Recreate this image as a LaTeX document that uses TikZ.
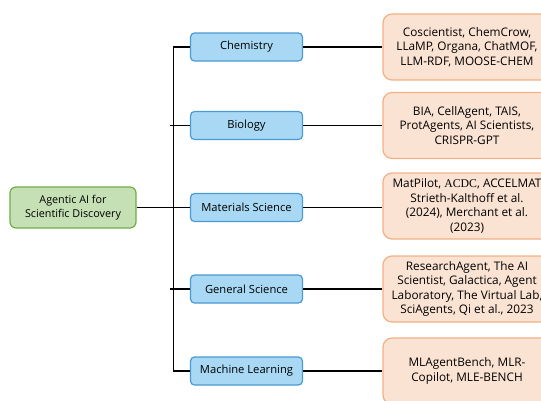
\documentclass[tikz,border=0pt]{standalone}
\usepackage{fontspec}
\setmainfont{Open Sans}
\newfontfamily\serifacdc{Liberation Serif}
\definecolor{rootfill}{HTML}{C5E0B4}
\definecolor{rootdraw}{HTML}{70AD47}
\definecolor{midfill}{HTML}{A8D8F3}
\definecolor{middraw}{HTML}{4A9AD4}
\definecolor{leaffill}{HTML}{FBE3D3}
\definecolor{leafdraw}{HTML}{F2B084}
\begin{document}
\begin{tikzpicture}[x=1pt,y=-1pt,
  rootbox/.style={draw=rootdraw,fill=rootfill,line width=1.2pt,rounded corners=6pt,minimum width=126pt,minimum height=41pt,align=center,font=\fontsize{10.8}{14.3}\selectfont,inner sep=0pt},
  midbox/.style={draw=middraw,fill=midfill,line width=1.2pt,rounded corners=4pt,minimum width=112pt,minimum height=28pt,align=center,font=\fontsize{11.2}{13}\selectfont,inner sep=0pt},
  leafbox/.style={draw=leafdraw,fill=leaffill,line width=1.2pt,rounded corners=9pt,minimum width=168pt,minimum height=66pt,align=center,font=\fontsize{11.8}{14.5}\selectfont,inner sep=0pt},
  conn/.style={draw=black,line width=1.3pt}]
\useasboundingbox (0,0) rectangle (541,400);
\begin{scope}
\clip (0,0) rectangle (541,400);
\node[rootbox] (root) at (73,207.5) {Agentic AI for\\Scientific Discovery};
\node[midbox] (chem) at (246.5,47) {Chemistry};
\node[midbox] (bio) at (246.5,125.5) {Biology};
\node[midbox] (mat) at (246.5,207.5) {Materials Science};
\node[midbox] (gen) at (246.5,289) {General Science};
\node[midbox] (ml) at (246.5,371) {Machine Learning};
\node[leafbox] (lchem) at (467,47) {Coscientist, ChemCrow,\\LLaMP, Organa, ChatMOF,\\LLM-RDF, MOOSE-CHEM};
\node[leafbox] (lbio) at (467,125.5) {BIA, CellAgent, TAIS,\\ProtAgents, AI Scientists,\\CRISPR-GPT};
\node[leafbox] (lmat) at (467,206) {MatPilot, {\serifacdc ACDC}, ACCELMAT\\Strieth-Kalthoff et al.\\(2024), Merchant et al.\\(2023)};
\node[leafbox] (lgen) at (467,289) {ResearchAgent, The AI\\Scientist, Galactica, Agent\\Laboratory, The Virtual Lab,\\SciAgents, Qi et al., 2023};
\node[leafbox] (lml) at (467,371) {MLAgentBench, MLR-\\Copilot, MLE-BENCH};
\coordinate (ttop) at (173.5,47);
\coordinate (tbot) at (173.5,371);
\draw[conn] (chem.west) -- (ttop) -- (tbot) -- (ml.west);
\draw[conn] (root.east) -- (mat.west);
\draw[conn] (bio.west) -- ++(-19.5,0);
\draw[conn] (gen.west) -- ++(-19.5,0);
\draw[conn] (chem.east) -- (lchem.west);
\draw[conn] (bio.east) -- (lbio.west);
\draw[conn] (mat.east) -- (lmat.west |- mat.east);
\draw[conn] (gen.east) -- (lgen.west);
\draw[conn] (ml.east) -- (lml.west);
\end{scope}
\end{tikzpicture}
\end{document}
